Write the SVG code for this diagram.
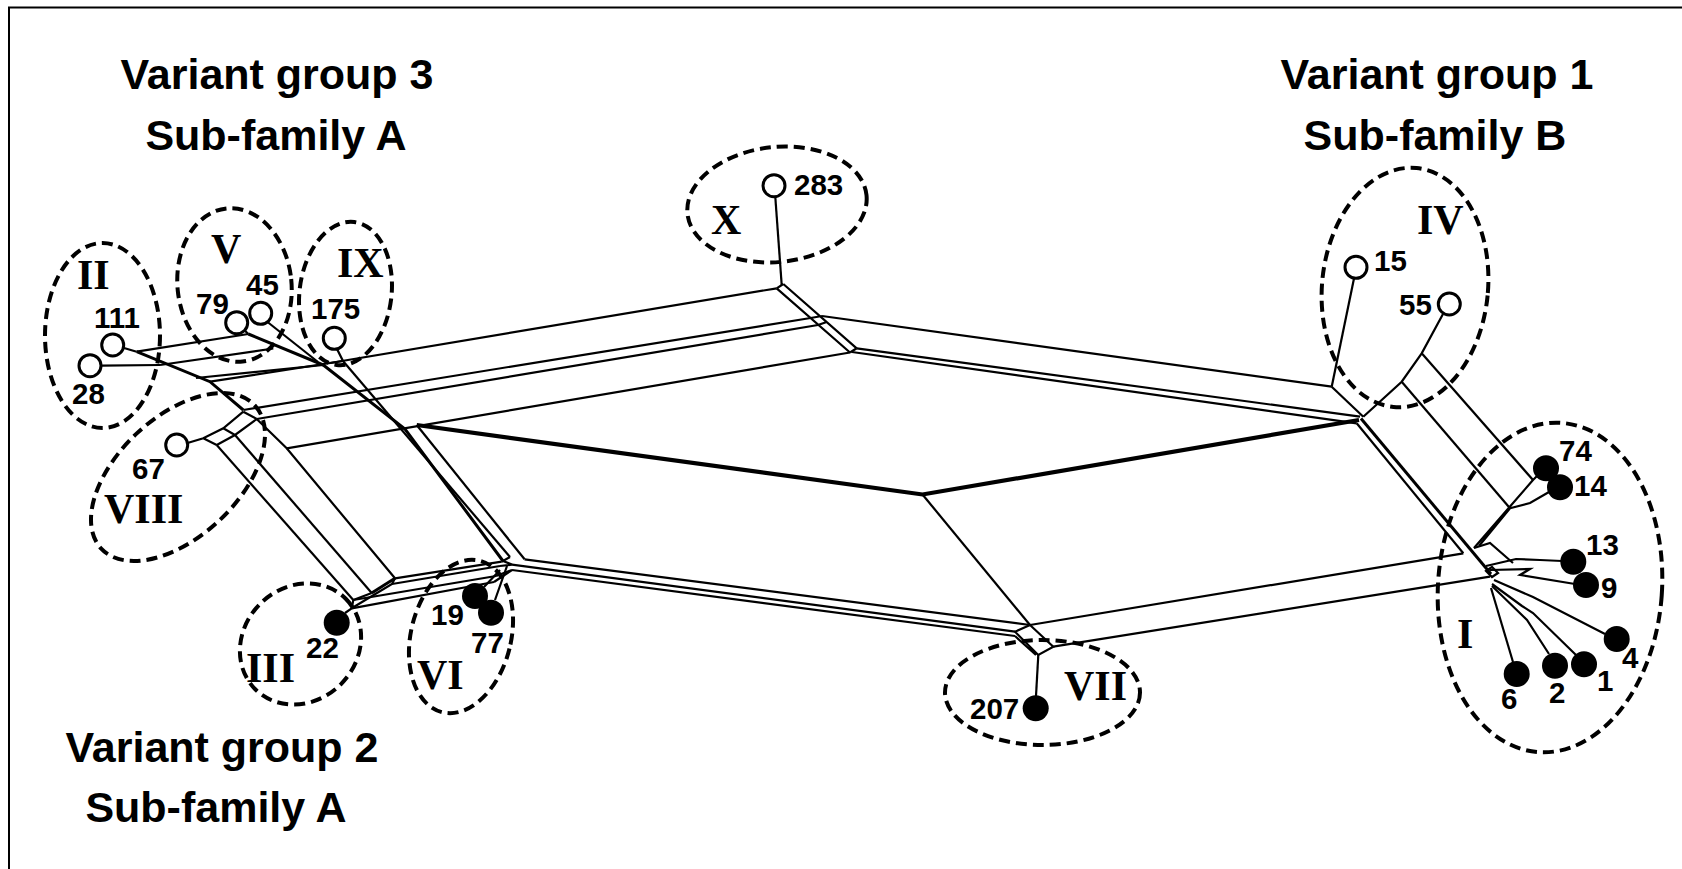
<svg xmlns="http://www.w3.org/2000/svg" width="1682" height="869" viewBox="0 0 1682 869">
<style>
.ln{fill:none;stroke:#000;stroke-width:2.2;stroke-linejoin:miter}
.md{fill:none;stroke:#000;stroke-width:3}
.tk{fill:none;stroke:#000;stroke-width:4.2}
.ring{fill:none;stroke:#000;stroke-width:4;stroke-dasharray:11 6}
.open{fill:#fff;stroke:#000;stroke-width:3}
.full{fill:#000}
.num{font-family:"Liberation Sans",Arial,sans-serif;font-weight:bold;font-size:29.5px;fill:#000}
.rom{font-family:"Liberation Serif","Times New Roman",serif;font-weight:bold;font-size:42px;fill:#000}
.hdr{font-family:"Liberation Sans",Arial,sans-serif;font-weight:bold;font-size:43px;fill:#000;text-anchor:middle}
</style>
<rect x="0" y="0" width="1682" height="869" fill="#fff"/>
<path d="M9,869 L9,7.5 L1682,7.5" fill="none" stroke="#000" stroke-width="2"/>

<g id="headers">
<text class="hdr" x="277" y="89">Variant group 3</text>
<text class="hdr" x="276" y="150">Sub-family A</text>
<text class="hdr" x="1437" y="89">Variant group 1</text>
<text class="hdr" x="1435" y="150">Sub-family B</text>
<text class="hdr" x="222" y="762">Variant group 2</text>
<text class="hdr" x="216" y="822">Sub-family A</text>
</g>

<g id="connectors">
<!-- core -->
<path class="tk" d="M416.7,425 L922.5,494.5 L1359,420"/>
<path class="ln" d="M922.5,494.5 L1030,625"/>
<!-- top band -->
<path class="ln" d="M330,363 L776.7,288.3"/>
<path class="ln" d="M243.3,410 L810.6,318"/>
<path class="ln" d="M256.7,419 L818,325"/>
<path class="ln" d="M286.7,448.3 L850,352.5"/>
<!-- X bundle -->
<path class="ln" d="M776.7,288.3 L850,352.5 M783.3,284 L856.7,348.3 M776.7,288.3 L783.3,284 M810.6,318 L822,316 M818,325 L826.7,322 M850,352.5 L856.7,348.3"/>
<path class="ln" d="M781.7,285 L775.3,197"/>
<!-- right band -->
<path class="ln" d="M822,316 L1331.7,386.7"/>
<path class="ln" d="M856.7,348.3 L1360,416.7"/>
<path class="ln" d="M852,352 L1356.7,423.3"/>
<path class="ln" d="M1331.7,386.7 L1363.3,416.7"/>
<path class="ln" d="M1331.7,386.7 L1354,278.5"/>
<path class="ln" d="M1363.3,416.7 L1401.7,381.7 L1421.7,353.3 L1443,314"/>
<path class="ln" d="M1401.7,381.7 L1510,508.3"/>
<path class="ln" d="M1421.7,353.3 L1533,480"/>
<path class="ln" d="M1356.7,423.3 L1463.3,553.3"/>
<path class="md" d="M1361,418.5 L1491,574"/>
<!-- bottom right band -->
<path class="ln" d="M1030,625 L1463.3,553.3"/>
<path class="ln" d="M1053.3,646.7 L1490,576.7"/>
<!-- 74/14 bundle -->
<path class="ln" d="M1533,480 L1474,548 M1510,508.3 L1479,546 M1533,480 L1539,474 M1510,508.3 L1530,503 L1549,492"/>
<!-- group I leaves -->
<path class="ln" d="M1474,548 L1490,543 L1513,563 M1486,566 L1516,559 L1540,560 L1562,561 M1490,570 L1530,569 L1520,575 L1575,584"/>
<path class="ln" d="M1494,580 L1533,597 L1605,634"/>
<path class="ln" d="M1492,584 L1522,606 L1533,613 L1576,655"/>
<path class="ln" d="M1492,586 L1527,620 L1549,654"/>
<path class="ln" d="M1491,588 L1513,662"/>
<path class="ln" d="M1486,571 L1492,567 L1498,573 L1492,577 Z"/>
<!-- bottom band VI to VII -->
<path class="ln" d="M524.6,559.3 L1030,625"/>
<path class="ln" d="M512,564.6 L1015,631.7"/>
<path class="ln" d="M512,570 L1015,636"/>
<path class="ln" d="M1015,631.7 L1030,625 L1053.3,646.7 L1038.3,655 Z M1015,636 L1036,655"/>
<path class="ln" d="M1038.3,655 L1036,696"/>
<!-- IX band -->
<path class="md" d="M323.3,365 L405,429 L503,561"/>
<path class="ln" d="M343,361 L510,557"/>
<path class="ln" d="M416.7,425 L524.6,559.3"/>
<!-- left cluster -->
<path class="md" d="M136.7,351.7 L210,381.7 L243.3,410"/>
<path class="md" d="M248.3,334 L323.3,365"/>
<path class="ln" d="M124,348 L136.7,351.7"/>
<path class="ln" d="M101.5,365.7 L160,365"/>
<path class="ln" d="M136.7,351.7 L248.3,334"/>
<path class="ln" d="M160,365 L273.3,348.5"/>
<path class="ln" d="M196,378 L323.3,365"/>
<path class="ln" d="M210,381.7 L343,361"/>
<path class="ln" d="M244.6,330.4 L248.3,334"/>
<path class="ln" d="M267.5,322 L318,362"/>
<path class="ln" d="M337,349 L343,361"/>
<path class="ln" d="M187.5,443 L203.3,438.3 L223.3,428.3 L243.3,411.7 M216.7,445 L235,435 L256.7,419 M203.3,438.3 L216.7,445 M223.3,428.3 L235,435 M243.3,411.7 L256.7,419"/>
<path class="ln" d="M216.7,445 L353.3,600"/>
<path class="ln" d="M235,435 L371.7,593"/>
<path class="ln" d="M256.7,419 L286.7,448.3 L395,578.3"/>
<!-- III / VI -->
<path class="ln" d="M345,613 L351.7,608.3 L353.3,600 M353.3,600 L371.7,593 M351.7,608.3 L392,584 L395,578.3"/>
<path class="md" d="M371.7,593 L395,578.3"/>
<path class="ln" d="M353.3,600 L496,576 M351.7,608.3 L494,582 M395,578.3 L501.7,561.7 M392,584 L500,566"/>
<path class="ln" d="M501.7,561.7 L510,557 M500,566 L512,564.6 M496,576 L512,570 M494,582 L512,570 M503,561 L512,564.6"/>
<path class="ln" d="M484,587 L500,570 M495,600 L507,566"/>
</g>

<g id="cluster-I"><ellipse class="ring" cx="1550" cy="587.5" rx="112" ry="165" transform="rotate(4 1550 587.5)"/><text class="rom" x="1457" y="648">I</text></g>
<g id="cluster-II"><ellipse class="ring" cx="102.5" cy="335.5" rx="57.5" ry="92.5"/><text class="rom" x="77" y="289">II</text></g>
<g id="cluster-III"><ellipse class="ring" cx="300.5" cy="644" rx="64" ry="57" transform="rotate(-45 300.5 644)"/><text class="rom" x="246" y="682">III</text></g>
<g id="cluster-IV"><ellipse class="ring" cx="1405" cy="287.5" rx="83" ry="120" transform="rotate(5.5 1405 287.5)"/><text class="rom" x="1417" y="234">IV</text></g>
<g id="cluster-V"><ellipse class="ring" cx="234.5" cy="285" rx="57" ry="77" transform="rotate(-6 234.5 285)"/><text class="rom" x="211" y="263">V</text></g>
<g id="cluster-VI"><ellipse class="ring" cx="461" cy="636.5" rx="50" ry="78" transform="rotate(14 461 636.5)"/><text class="rom" x="417" y="689">VI</text></g>
<g id="cluster-VII"><ellipse class="ring" cx="1042.5" cy="692.5" rx="97.5" ry="52.5"/><text class="rom" x="1064" y="700">VII</text></g>
<g id="cluster-VIII"><ellipse class="ring" cx="178" cy="477" rx="105" ry="60" transform="rotate(-43 178 477)"/><text class="rom" x="104" y="523">VIII</text></g>
<g id="cluster-IX"><ellipse class="ring" cx="345.5" cy="293.5" rx="46" ry="72" transform="rotate(7 345.5 293.5)"/><text class="rom" x="337" y="277">IX</text></g>
<g id="cluster-X"><ellipse class="ring" cx="777" cy="204.5" rx="90" ry="57.5" transform="rotate(-6 777 204.5)"/><text class="rom" x="711" y="234">X</text></g>

<g id="n283"><circle class="open" cx="774" cy="185.7" r="11"/><text class="num" x="794" y="195">283</text></g>
<g id="n111"><circle class="open" cx="112.7" cy="345" r="11"/><text class="num" x="94" y="328">111</text></g>
<g id="n28"><circle class="open" cx="90" cy="365.7" r="11"/><text class="num" x="72" y="404">28</text></g>
<g id="n79"><circle class="open" cx="236.7" cy="322.7" r="11"/><text class="num" x="196" y="314">79</text></g>
<g id="n45"><circle class="open" cx="260.7" cy="313.3" r="11"/><text class="num" x="246" y="295">45</text></g>
<g id="n175"><circle class="open" cx="334.3" cy="338.3" r="11"/><text class="num" x="311" y="319">175</text></g>
<g id="n67"><circle class="open" cx="176.7" cy="445" r="11"/><text class="num" x="132" y="479">67</text></g>
<g id="n15"><circle class="open" cx="1356" cy="267.3" r="11"/><text class="num" x="1374" y="271">15</text></g>
<g id="n55"><circle class="open" cx="1449.3" cy="304" r="11"/><text class="num" x="1399" y="315">55</text></g>
<g id="n22"><circle class="full" cx="336.7" cy="622.7" r="13"/><text class="num" x="306" y="658">22</text></g>
<g id="n19"><circle class="full" cx="475" cy="596" r="13"/><text class="num" x="431" y="625">19</text></g>
<g id="n77"><circle class="full" cx="491" cy="612.7" r="13"/><text class="num" x="471" y="653">77</text></g>
<g id="n74"><circle class="full" cx="1546" cy="468.3" r="13"/><text class="num" x="1559" y="461">74</text></g>
<g id="n14"><circle class="full" cx="1560" cy="487.3" r="13"/><text class="num" x="1574" y="496">14</text></g>
<g id="n13"><circle class="full" cx="1573.3" cy="561.7" r="13"/><text class="num" x="1586" y="555">13</text></g>
<g id="n9"><circle class="full" cx="1586" cy="585" r="13"/><text class="num" x="1601" y="598">9</text></g>
<g id="n4"><circle class="full" cx="1616.7" cy="639" r="13"/><text class="num" x="1622" y="668">4</text></g>
<g id="n1"><circle class="full" cx="1584" cy="664.3" r="13"/><text class="num" x="1597" y="691">1</text></g>
<g id="n2"><circle class="full" cx="1555" cy="665.7" r="13"/><text class="num" x="1549" y="703">2</text></g>
<g id="n6"><circle class="full" cx="1516.7" cy="674" r="13"/><text class="num" x="1501" y="709">6</text></g>
<g id="n207"><circle class="full" cx="1035.7" cy="708.3" r="13"/><text class="num" x="970" y="719">207</text></g>
</svg>
